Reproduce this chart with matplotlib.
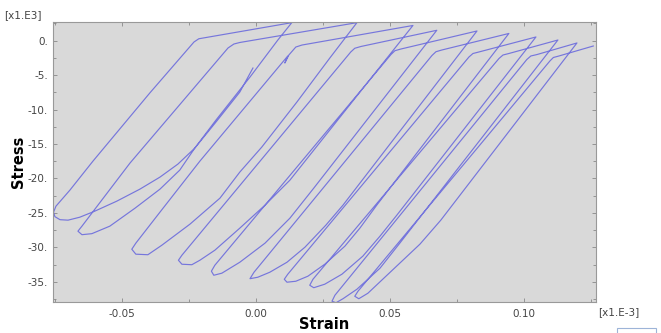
import matplotlib
matplotlib.use("Agg")
import matplotlib.pyplot as plt
from matplotlib.ticker import MultipleLocator, FixedLocator
from matplotlib.patches import Rectangle

# Strain (x1.E-3) and Stress (x1.E3), in path order
strain = [
    -0.0011, -0.0060, -0.0146, -0.0228, -0.0291, -0.0358, -0.0433, -0.0519, -0.0601, -0.0657, -0.0701, -0.0731, -0.0750, -0.0755,
    -0.0746, -0.0694, -0.0608, -0.0396, -0.0231, -0.0213, 0.0134,
    0.0082, -0.0022, -0.0149, -0.0228, -0.0284, -0.0358, -0.0451, -0.0545, -0.0612, -0.0649, -0.0664,
    -0.0649, -0.0470, -0.0104, -0.0082, -0.0060, 0.0377,
    0.0276, 0.0153, 0.0022, -0.0060, -0.0134, -0.0246, -0.0351, -0.0403, -0.0448, -0.0463,
    -0.0448, -0.0358, -0.0209, 0.0119, 0.0108, 0.0123, 0.0149, 0.0172, 0.0586,
    0.0127, 0.0034, -0.0060, -0.0153, -0.0209, -0.0239, -0.0276, -0.0289,
    -0.0276, 0.0354, 0.0369, 0.0392, 0.0675,
    0.0216, 0.0127, 0.0034, -0.0060, -0.0127, -0.0157, -0.0166,
    -0.0153, 0.0504, 0.0519, 0.0541, 0.0825,
    0.0325, 0.0261, 0.0183, 0.0116, 0.0052, 0.0007, -0.0022,
    -0.0007, 0.0657, 0.0672, 0.0694, 0.0944,
    0.0451, 0.0388, 0.0332, 0.0257, 0.0194, 0.0149, 0.0116, 0.0106,
    0.0119, 0.0795, 0.0810, 0.0832, 0.1045,
    0.0526, 0.0463, 0.0399, 0.0321, 0.0257, 0.0216, 0.0201,
    0.0213, 0.0907, 0.0922, 0.0944, 0.1127,
    0.0604, 0.0537, 0.0463, 0.0377, 0.0325, 0.0299, 0.0284,
    0.0295, 0.1011, 0.1026, 0.1049, 0.1198,
    0.0690, 0.0612, 0.0537, 0.0474, 0.0418, 0.0384, 0.0369,
    0.0381, 0.1097, 0.1110, 0.1131, 0.1259,
]
stress = [
    -3.97, -7.46, -11.67, -15.60, -17.92, -19.81, -21.56, -23.30, -24.75, -25.63, -26.06, -25.99, -25.55, -24.90,
    -24.03, -21.70, -17.49, -7.60, -0.19, 0.28, 2.62,
    0.10, -5.28, -11.53, -15.60, -18.79, -21.56, -24.32, -26.93, -28.02, -28.17, -27.66,
    -26.93, -17.78, -1.06, -0.48, -0.26, 2.62,
    -2.51, -8.91, -15.45, -19.08, -22.86, -26.64, -29.70, -31.08, -31.00, -30.28,
    -29.40, -24.90, -17.49, -2.22, -3.24, -2.08, -0.92, -0.63, 2.21,
    -20.25, -23.88, -27.22, -30.42, -31.88, -32.53, -32.46, -31.88,
    -31.15, -1.64, -1.10, -0.84, 1.51,
    -21.41, -25.77, -29.40, -32.17, -33.76, -34.06, -33.47,
    -32.60, -2.01, -1.45, -1.21, 1.41,
    -23.88, -26.79, -29.99, -32.17, -33.62, -34.35, -34.56,
    -33.62, -2.15, -1.60, -1.35, 1.05,
    -23.88, -27.22, -29.84, -32.46, -34.20, -34.93, -35.07, -34.64,
    -33.91, -2.37, -1.86, -1.64, 0.54,
    -25.33, -28.39, -31.29, -33.91, -35.36, -35.87, -35.51,
    -34.64, -2.59, -2.08, -1.86, 0.10,
    -26.06, -29.40, -33.04, -36.09, -37.47, -38.05, -37.83,
    -36.96, -2.73, -2.22, -2.01, -0.33,
    -26.06, -29.55, -32.31, -34.64, -36.67, -37.47, -37.11,
    -36.38, -2.95, -2.44, -2.22, -0.77,
]

x_ticks = [-0.05, 0.00, 0.05, 0.10]
x_tick_labels = ["-0.05", "0.00", "0.05", "0.10"]
y_ticks = [0, -5, -10, -15, -20, -25, -30, -35]
y_tick_labels = ["0.", "-5.", "-10.", "-15.", "-20.", "-25.", "-30.", "-35."]

fig = plt.figure(figsize=(6.61, 3.33), dpi=100)
fig.patch.set_facecolor("white")
ax = fig.add_axes([0.0802, 0.094, 0.821, 0.839])
ax.set_facecolor("#d9d9d9")

ax.plot(strain, stress, color="#7676dc", lw=0.85, solid_joinstyle="round")

ax.set_xlim(-0.0757, 0.1268)
ax.set_ylim(-37.9, 2.67)

ax.xaxis.set_major_locator(FixedLocator(x_ticks))
ax.set_xticklabels(x_tick_labels)
ax.xaxis.set_minor_locator(MultipleLocator(0.025))
ax.yaxis.set_major_locator(FixedLocator(y_ticks))
ax.set_yticklabels(y_tick_labels)
ax.yaxis.set_minor_locator(MultipleLocator(2.5))

ax.tick_params(which="both", direction="in", top=True, right=True,
               color="#888888", labelsize=7.5, labelcolor="#444444", width=0.6)
ax.tick_params(which="major", length=3)
ax.tick_params(which="minor", length=2)
ax.tick_params(axis="x", pad=5)
for sp in ax.spines.values():
    sp.set_color("#999999")
    sp.set_linewidth(0.8)

ax.set_xlabel("Strain", fontsize=10.5, fontweight="bold", labelpad=-1)
ax.set_ylabel("Stress", fontsize=10.5, fontweight="bold", labelpad=1)

fig.text(0.905, 0.062, "[x1.E-3]", fontsize=7.5, color="#444444", ha="left", va="center")
fig.text(0.006, 0.955, "[x1.E3]", fontsize=7.5, color="#444444", ha="left", va="center")

fig.patches.append(Rectangle((0.934, -0.01), 0.058, 0.025, transform=fig.transFigure,
                             facecolor="white", edgecolor="#9db4d8", lw=0.8))

fig.savefig("out.png", dpi=100)
